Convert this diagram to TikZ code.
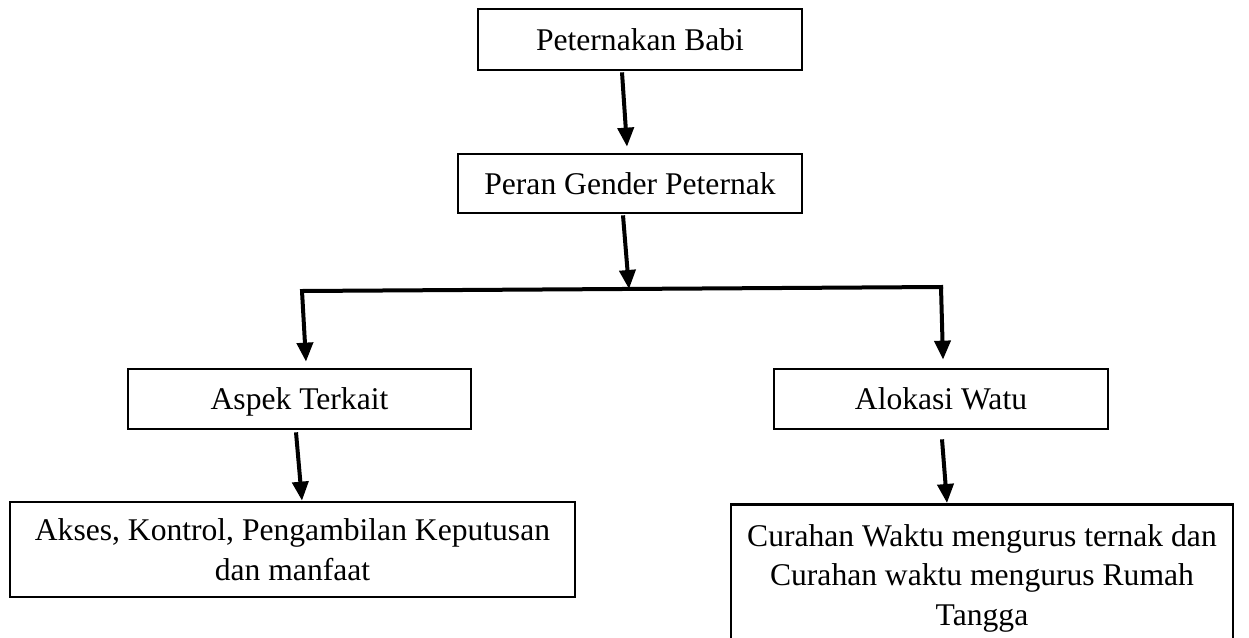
\documentclass[tikz,border=0pt]{standalone}
\usepackage{fontspec}
\setmainfont{Liberation Serif}
\usetikzlibrary{arrows.meta}
\begin{document}
\begin{tikzpicture}[x=1pt,y=-1pt,
  boxnode/.style={draw=black,line width=2.7pt,fill=white,align=center,inner sep=0pt,
    font=\fontsize{31.6}{39.5}\selectfont},
  oneline/.style={boxnode,text height=21pt,text depth=0pt},
  arr/.style={line width=4pt,-{Triangle[width=16pt,length=19pt]}},
  link/.style={line width=4pt}]
\useasboundingbox (0,0) rectangle (1249,637);
\node[oneline,minimum width=324pt,minimum height=61pt] (b1) at (640,39.5) {Peternakan Babi};
\node[oneline,minimum width=344pt,minimum height=59pt] (b2) at (630,183.5) {Peran Gender Peternak};
\node[oneline,minimum width=343pt,minimum height=60pt] (b3) at (299.5,399) {Aspek Terkait};
\node[oneline,minimum width=334pt,minimum height=60pt] (b4) at (941,399) {Alokasi Watu};
\node[boxnode,minimum width=565pt,minimum height=95pt] (b5) at (292.5,549.5) {Akses, Kontrol, Pengambilan Keputusan\\dan manfaat};
\node[boxnode,minimum width=502pt,inner ysep=20pt,anchor=north] (b6) at (982,503) {Curahan Waktu mengurus ternak dan\\Curahan waktu mengurus Rumah\\Tangga};
\coordinate (jc) at (629,289);
\coordinate (jl) at (302,291);
\coordinate (jr) at (941,287);
\draw[arr] ([xshift=-18pt,yshift=-1pt]b1.south) -- ([xshift=-3pt,yshift=6pt]b2.north);
\draw[arr] ([xshift=-7pt,yshift=-1pt]b2.south) -- (jc);
\draw[link,line cap=rect] (jl) -- (jr);
\draw[arr] (jl) -- ([xshift=6.5pt,yshift=6pt]b3.north);
\draw[arr] (jr) -- ([xshift=2pt,yshift=8pt]b4.north);
\draw[arr] ([xshift=-3.5pt,yshift=-2pt]b3.south) -- ([xshift=9.5pt]b5.north);
\draw[arr] ([xshift=1pt,yshift=-9pt]b4.south) -- ([xshift=-35pt]b6.north);
\end{tikzpicture}
\end{document}
